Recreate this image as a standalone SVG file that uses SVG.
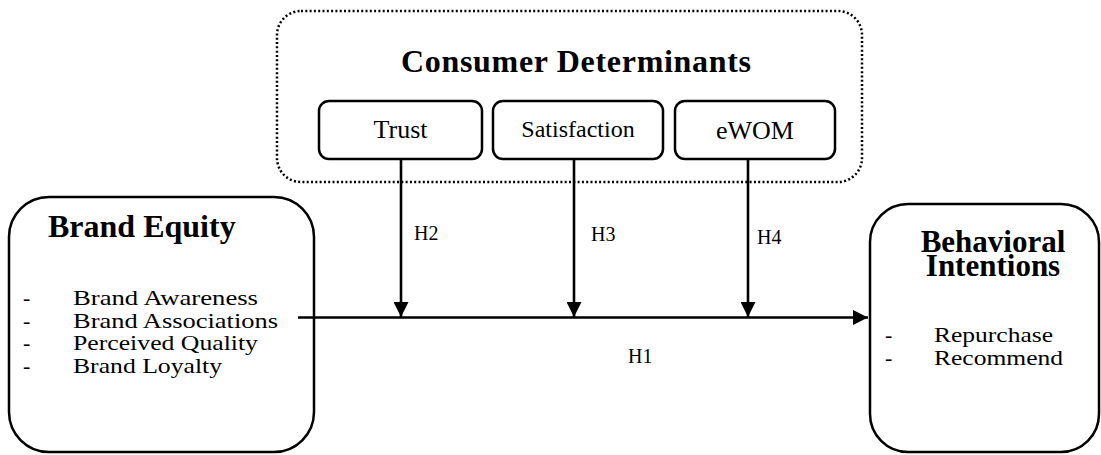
<svg xmlns="http://www.w3.org/2000/svg" width="1101" height="455" viewBox="0 0 1101 455">
<defs>
<style>
text{font-family:"Liberation Serif","Times New Roman",serif;fill:#000}
.box{fill:#fff;stroke:#000;stroke-width:2.5}
.dot{fill:none;stroke:#000;stroke-width:2.5;stroke-dasharray:2 2.3}
.line{stroke:#000;stroke-width:2.6;fill:none}
.title{font-weight:bold;font-size:32px}
.lbl{font-size:26px}
.sat{font-size:24px}
.item{font-size:22px}
.h{font-size:20px}
</style>
<marker id="arr" viewBox="0 0 15 15" refX="15" refY="7.5" markerWidth="15" markerHeight="15" markerUnits="userSpaceOnUse" orient="auto">
<path d="M0,0 L15,7.5 L0,15 Z" fill="#000"/>
</marker>
</defs>
<rect width="1101" height="455" fill="#fff"/>
<g id="consumer-determinants">
<rect class="dot" x="277" y="11" width="585" height="171" rx="24"/>
<text class="title" x="401" y="72" textLength="350">Consumer Determinants</text>
</g>
<g id="trust">
<rect class="box" x="319" y="101" width="163" height="58" rx="10"/>
<text class="lbl" x="400.5" y="138" text-anchor="middle">Trust</text>
</g>
<g id="satisfaction">
<rect class="box" x="493" y="101" width="170" height="58" rx="10"/>
<text class="sat" x="578" y="137" text-anchor="middle" font-family="Liberation Serif, serif">Satisfaction</text>
</g>
<g id="ewom">
<rect class="box" x="675" y="101" width="160" height="58" rx="10"/>
<text class="lbl" x="755" y="139" text-anchor="middle">eWOM</text>
</g>
<g id="brand-equity">
<rect class="box" x="9" y="197" width="305" height="255" rx="40"/>
<text class="title" x="48" y="237">Brand Equity</text>
<text class="item" x="23" y="305">-</text><text class="item" x="73" y="305" textLength="185" lengthAdjust="spacingAndGlyphs">Brand Awareness</text>
<text class="item" x="23" y="327.5">-</text><text class="item" x="73" y="327.5" textLength="205" lengthAdjust="spacingAndGlyphs">Brand Associations</text>
<text class="item" x="23" y="350">-</text><text class="item" x="73" y="350" textLength="185" lengthAdjust="spacingAndGlyphs">Perceived Quality</text>
<text class="item" x="23" y="372.5">-</text><text class="item" x="73" y="372.5" textLength="149" lengthAdjust="spacingAndGlyphs">Brand Loyalty</text>
</g>
<g id="behavioral-intentions">
<rect class="box" x="870" y="204" width="229" height="248" rx="38"/>
<text class="title" x="993" y="252" text-anchor="middle" style="font-size:31px">Behavioral</text>
<text class="title" x="993" y="276" text-anchor="middle" style="font-size:31px">Intentions</text>
<text class="item" x="885" y="342">-</text><text class="item" x="934" y="342" textLength="119" lengthAdjust="spacingAndGlyphs">Repurchase</text>
<text class="item" x="885" y="365">-</text><text class="item" x="934" y="365" textLength="129" lengthAdjust="spacingAndGlyphs">Recommend</text>
</g>
<g id="connectors">
<line class="line" x1="298" y1="317.5" x2="868" y2="317.5" marker-end="url(#arr)"/>
<line class="line" x1="401" y1="159" x2="401" y2="317" marker-end="url(#arr)"/>
<line class="line" x1="574" y1="159" x2="574" y2="317" marker-end="url(#arr)"/>
<line class="line" x1="748" y1="159" x2="748" y2="317" marker-end="url(#arr)"/>
<text class="h" x="414" y="240">H2</text>
<text class="h" x="591" y="241">H3</text>
<text class="h" x="757" y="244">H4</text>
<text class="h" x="628" y="363">H1</text>
</g>
</svg>
